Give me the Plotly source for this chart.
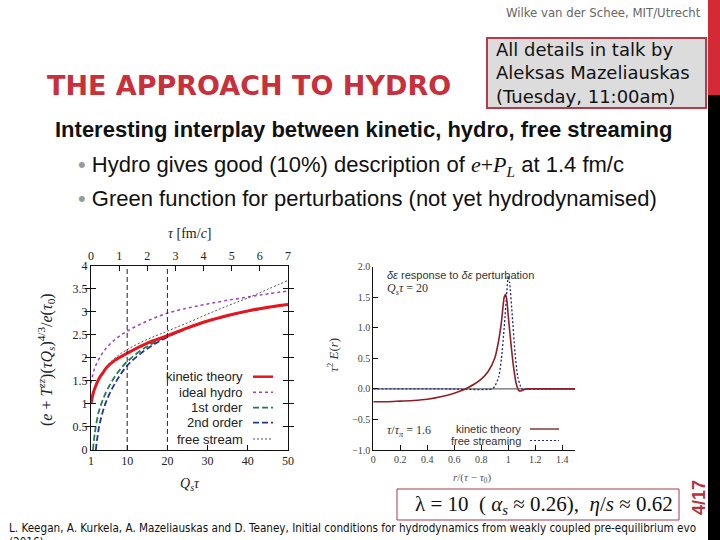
import plotly.graph_objects as go

W, H = 720, 540

# ---------------- data: left chart (energy density ratio vs Q_s tau) ----------------
qs_tau_kin = [1, 1.5, 2, 3, 4, 5, 7, 10, 15, 20, 25, 30, 35, 40, 45, 50]
kinetic = [1.0, 1.22, 1.35, 1.55, 1.68, 1.8, 1.95, 2.1, 2.32, 2.48, 2.65, 2.8, 2.92, 3.02, 3.1, 3.16]

qs_tau_ideal = [1, 1.5, 2, 3, 4, 5, 7, 10, 15, 20, 25, 30, 35, 40, 45, 50]
ideal_hydro = [1.45, 1.65, 1.8, 1.98, 2.12, 2.23, 2.4, 2.58, 2.8, 2.97, 3.08, 3.17, 3.25, 3.32, 3.39, 3.45]

qs_tau_1st = [1.5, 2, 3, 4, 5, 7, 10, 15, 20, 25, 30, 40, 50]
first_order = [0.0, 0.4, 0.85, 1.1, 1.3, 1.6, 1.92, 2.25, 2.47, 2.65, 2.8, 3.01, 3.16]

qs_tau_2nd = [2.2, 3, 4, 5, 7, 10, 15, 20, 25, 30, 40, 50]
second_order = [0.0, 0.5, 0.85, 1.1, 1.45, 1.83, 2.2, 2.45, 2.64, 2.8, 3.01, 3.16]

qs_tau_free = [1, 2, 3, 5, 7, 10, 15, 20, 25, 30, 35, 40, 45, 50]
free_stream = [1.0, 1.36, 1.57, 1.83, 2.0, 2.18, 2.4, 2.58, 2.76, 2.95, 3.13, 3.3, 3.49, 3.68]

marker_qs_tau = [10, 20]
left_series_names = ["kinetic theory", "ideal hydro", "1st order", "2nd order", "free stream"]

# ---------------- data: right chart (Green function response) ----------------
r_kin = [0, 0.1, 0.2, 0.3, 0.4, 0.5, 0.6, 0.65, 0.7, 0.75, 0.8, 0.85, 0.9, 0.93, 0.95,
         0.97, 0.98, 0.99, 1.0, 1.02, 1.04, 1.06, 1.08, 1.1, 1.12, 1.15, 1.3, 1.5]
E_kin = [-0.21, -0.21, -0.2, -0.19, -0.17, -0.13, -0.07, -0.03, 0.02, 0.08, 0.16, 0.28, 0.5, 0.8, 1.1,
         1.5, 1.55, 1.45, 1.2, 0.75, 0.35, 0.08, -0.03, -0.03, -0.01, 0.0, 0.0, 0.0]

r_free = [0, 0.5, 0.88, 0.9, 0.93, 0.95, 0.97, 0.99, 1.0, 1.01, 1.03, 1.05, 1.07, 1.09, 1.1, 1.3, 1.5]
E_free = [0.0, 0.0, 0.0, 0.04, 0.2, 0.5, 1.0, 1.6, 1.85, 1.75, 1.2, 0.6, 0.2, 0.05, 0.0, 0.0, 0.0]

right_series_names = ["kinetic theory", "free streaming"]


def px(x):
    return x / W


def py(y):
    return 1 - y / H


SERIF = "Liberation Serif, DejaVu Serif, serif"
SANS = "Liberation Sans, Arial, sans-serif"
NARROW = "DejaVu Sans Condensed, Liberation Sans Narrow, sans-serif"
SLIDE_RED = "#c8303c"

fig = go.Figure()

# ---- left chart traces
left_styles = [
    dict(color="#e8161c", width=3, dash="solid"),
    dict(color="#a040c0", width=1.5, dash="dot"),
    dict(color="#1f7f45", width=1.8, dash="6px,3px"),
    dict(color="#22329e", width=1.8, dash="6px,3px"),
    dict(color="#555555", width=1, dash="2px,2px"),
]
left_data = [(qs_tau_ideal, ideal_hydro, 1), (qs_tau_free, free_stream, 4),
             (qs_tau_1st, first_order, 2), (qs_tau_2nd, second_order, 3),
             (qs_tau_kin, kinetic, 0)]
for xs, ys, i in left_data:
    fig.add_trace(go.Scatter(x=xs, y=ys, mode="lines", line=dict(shape="spline", **left_styles[i]),
                             name=left_series_names[i], xaxis="x", yaxis="y", showlegend=False))

# invisible trace to activate top axis
fig.add_trace(go.Scatter(x=[0, 7], y=[None, None], xaxis="x2", yaxis="y", mode="lines", showlegend=False))

# ---- right chart traces
fig.add_trace(go.Scatter(x=r_free, y=E_free, mode="lines", xaxis="x3", yaxis="y3", showlegend=False,
                         line=dict(color="#1c2a8a", width=1.3, dash="2px,2px", shape="spline", smoothing=0.6)))
fig.add_trace(go.Scatter(x=r_kin, y=E_kin, mode="lines", xaxis="x3", yaxis="y3", showlegend=False,
                         line=dict(color="#8e1f28", width=1.6, shape="spline", smoothing=0.6)))

shapes = []
annotations = []

# ---- slide decoration
shapes += [
    dict(type="rect", xref="paper", yref="paper", x0=px(708), x1=1.02, y0=-0.05, y1=1.02,
         fillcolor="#000000", line=dict(width=0)),
    dict(type="rect", xref="paper", yref="paper", x0=px(708), x1=1.02, y0=py(95), y1=1.02,
         fillcolor="#d42a36", line=dict(width=0)),
    dict(type="rect", xref="paper", yref="paper", x0=px(487), x1=px(706), y0=py(108), y1=py(38),
         fillcolor="#dcdcdc", line=dict(color="#b8394a", width=2)),
    dict(type="rect", xref="paper", yref="paper", x0=px(397), x1=px(679), y0=py(520), y1=py(489),
         fillcolor="white", line=dict(color="#a83848", width=1)),
]

# vertical dashed marker lines in left chart
for v in marker_qs_tau:
    shapes.append(dict(type="line", xref="x", yref="y", x0=v, x1=v, y0=0, y1=4,
                       line=dict(color="#222", width=1, dash="5px,3px")))

# zero line in right chart
shapes.append(dict(type="line", xref="x3", yref="y3", x0=0, x1=1.495, y0=0, y1=0,
                   line=dict(color="#444", width=1), layer="below"))

# ---- left legend (text then sample line on the right)
leg_rows = [376.7, 392.3, 407.7, 422.7, 439]
for i, yy in enumerate(leg_rows):
    annotations.append(dict(x=px(245), y=py(yy), text=left_series_names[i], xanchor="right",
                            font=dict(family=SANS, size=13, color="#222")))
    st = left_styles[i]
    shapes.append(dict(type="line", xref="paper", yref="paper", x0=px(253), x1=px(273), y0=py(yy), y1=py(yy),
                       line=dict(color=st["color"], width=min(st["width"], 2.5), dash=st["dash"])))

# ---- right legend
rleg_rows = [429, 440.5]
rstyles = [dict(color="#a05a5e", width=1.8, dash="solid"), dict(color="#1c2a8a", width=1.2, dash="2px,2px")]
for i, yy in enumerate(rleg_rows):
    annotations.append(dict(x=px(523), y=py(yy), text=right_series_names[i], xanchor="right",
                            font=dict(family=SANS, size=11, color="#333")))
    shapes.append(dict(type="line", xref="paper", yref="paper", x0=px(530), x1=px(559), y0=py(yy), y1=py(yy),
                       line=rstyles[i]))

# ---- axis titles and chart notes
annotations += [
    dict(x=px(189.5), y=py(233), text="<i>τ</i> [fm/<i>c</i>]", font=dict(family=SERIF, size=14, color="#222")),
    dict(x=px(189.5), y=py(484), text="<i>Q<sub>s</sub>τ</i>", font=dict(family=SERIF, size=14, color="#222")),
    dict(x=px(46), y=py(360), textangle=-90,
         text="(<i>e</i> + <i>T</i><sup><i>zz</i></sup>)(<i>τQ<sub>s</sub></i>)<sup>4/3</sup>/<i>e</i>(<i>τ</i><sub>0</sub>)",
         font=dict(family=SERIF, size=16, color="#222")),
    dict(x=px(333), y=py(355), textangle=-90, text="<i>τ</i><sup>2</sup> <i>E</i>(<i>r</i>)",
         font=dict(family=SERIF, size=13, color="#333")),
    dict(x=px(472), y=py(478), text="<i>r</i>/(<i>τ</i> − <i>τ</i><sub>0</sub>)",
         font=dict(family=SERIF, size=11, color="#555")),
    dict(x=px(385), y=py(275), xanchor="left", text="<i>δε</i> response to <i>δε</i> perturbation",
         font=dict(family=SANS, size=11, color="#333")),
    dict(x=px(385), y=py(289), xanchor="left", text="<i>Q<sub>s</sub>τ</i> = 20",
         font=dict(family=SERIF, size=12, color="#333")),
    dict(x=px(385), y=py(431), xanchor="left", text="<i>τ</i>/<i>τ<sub>π</sub></i> = 1.6",
         font=dict(family=SERIF, size=12, color="#333")),
]

annotations += [
    dict(x=px(703), y=py(12), xanchor="right", text="Wilke van der Schee, MIT/Utrecht",
         font=dict(family=NARROW, size=13, color="#666")),
    dict(x=px(45), y=py(85), xanchor="left", text="<b>THE APPROACH TO HYDRO</b>",
         font=dict(family="DejaVu Sans, sans-serif", size=27, color=SLIDE_RED)),
    dict(x=px(494), y=py(73), xanchor="left", align="left",
         text="All details in talk by<br>Aleksas Mazeliauskas<br>(Tuesday, 11:00am)",
         font=dict(family="DejaVu Sans, sans-serif", size=18, color="#111")),
    dict(x=px(363), y=py(130), text="<b>Interesting interplay between kinetic, hydro, free streaming</b>",
         font=dict(family=SANS, size=22, color="#111")),
    dict(x=px(76), y=py(166), xanchor="left",
         text="<span style='color:#999'>•</span> Hydro gives good (10%) description of "
              "<span style='font-family:Liberation Serif'><i>e</i>+<i>P</i><sub><i>L</i></sub></span> at 1.4 fm/c",
         font=dict(family=SANS, size=22, color="#111")),
    dict(x=px(76), y=py(198), xanchor="left",
         text="<span style='color:#999'>•</span> Green function for perturbations (not yet hydrodynamised)",
         font=dict(family=SANS, size=22, color="#111")),
    dict(x=px(544), y=py(504.5), text="λ = 10  ( <i>α<sub>s</sub></i> ≈ 0.26),  <i>η</i>/<i>s</i> ≈ 0.62",
         font=dict(family=SERIF, size=21, color="#111")),
    dict(x=px(699), y=py(498), textangle=-90, text="<b>4/17</b>",
         font=dict(family=SANS, size=18, color="#b8303c")),
    dict(x=px(7), y=py(528), xanchor="left",
         text="L. Keegan, A. Kurkela, A. Mazeliauskas and D. Teaney, Initial conditions for hydrodynamics from weakly coupled pre-equilibrium evo",
         font=dict(family=NARROW, size=11.6, color="#111")),
    dict(x=px(7), y=py(542), xanchor="left", text="(2016)",
         font=dict(family=NARROW, size=11.6, color="#111")),
]

for a in annotations:
    a.setdefault("xref", "paper")
    a.setdefault("yref", "paper")
    a.setdefault("showarrow", False)
    a.setdefault("xanchor", "center")
    a.setdefault("yanchor", "middle")

axis_common = dict(showline=True, linecolor="#111", linewidth=1, ticks="inside", ticklen=5,
                   tickcolor="#111", showgrid=False, zeroline=False, automargin=False)

fig.update_layout(
    template="none",
    width=W, height=H, margin=dict(l=0, r=0, t=0, b=0, pad=0, autoexpand=False),
    paper_bgcolor="white", plot_bgcolor="white", showlegend=False,
    xaxis=dict(domain=[px(91), px(288)], range=[1, 50], tickvals=[1, 10, 20, 30, 40, 50],
               anchor="y", mirror=False, tickfont=dict(family=SERIF, size=12, color="#222"), **axis_common),
    xaxis2=dict(domain=[px(91), px(288)], range=[0, 7], dtick=1, overlaying="x", side="top", anchor="y",
                tickfont=dict(family=SERIF, size=12, color="#222"), **axis_common),
    yaxis=dict(domain=[py(450), py(265.7)], range=[0, 4], dtick=0.5, anchor="x", mirror="allticks",
               tickfont=dict(family=SERIF, size=12, color="#222"), **axis_common),
    xaxis3=dict(domain=[px(373.3), px(575)], range=[0, 1.495], dtick=0.2, anchor="y3",
                tickfont=dict(family=SERIF, size=10, color="#444"), **axis_common),
    yaxis3=dict(domain=[py(450), py(266.7)], range=[-1, 2], dtick=0.5, tickformat=".1f", anchor="x3",
                tickfont=dict(family=SERIF, size=10, color="#444"), **axis_common),
    shapes=shapes, annotations=annotations,
)

fig.write_html("out.html", config={"displayModeBar": False},
               post_script="document.documentElement.style.overflow='hidden';"
                           "document.body.style.margin='0';document.body.style.overflow='hidden';")
